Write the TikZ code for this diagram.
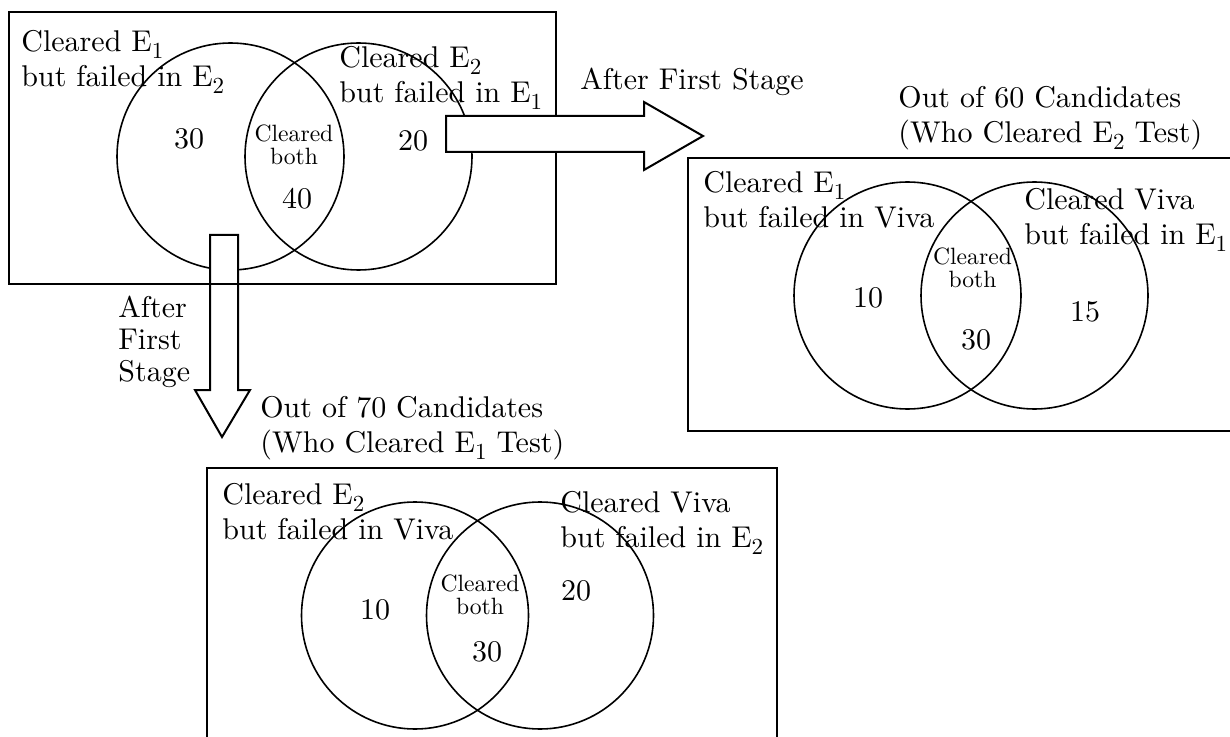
\documentclass[tikz,border=0pt]{standalone}
\usepackage{fontspec}
\setmainfont{lmroman10-regular.otf}
\newcommand\esub[1]{\raisebox{-3.5pt}{\fontsize{11.5}{11.5}\selectfont #1}}
\begin{document}
\begin{tikzpicture}[x=0.5pt,y=-0.5pt,
  venn/.style={circle, draw=black, line width=0.8pt, minimum size=113.5pt, inner sep=0pt},
  lbl/.style={anchor=base west, align=left, inner sep=0pt, font=\fontsize{15}{17.5}\selectfont},
  num/.style={inner sep=0pt, font=\fontsize{15}{17.5}\selectfont},
  both/.style={anchor=base, align=center, inner sep=0pt, font=\fontsize{11.8}{11.5}\selectfont},
  vennbox/.style={draw=black, line width=1pt},
  blockarrow/.style={draw=black, fill=white, line width=1pt, line join=miter}]
\useasboundingbox (0,0) rectangle (1230,737);
\clip (0,0) rectangle (1230,737);
% first stage: E1 and E2
\node [venn] (e1) at (230.5,156.5) {};
\node [venn] (e2) at (358.5,156.5) {};
\draw [blockarrow] (210,235) -- (238,235) -- (238,390) -- (250,390) -- (222,437) -- (195,390) -- (210,390) -- cycle;
\draw [vennbox] (9,12) rectangle (556,284);
\draw [blockarrow] (446,116) -- (644,116) -- (644,102) -- (703,136) -- (644,170) -- (644,152) -- (446,152) -- cycle;
\node [lbl] (e1only) at (21,87) {Cleared E\esub{1}\\but failed in E\esub{2}};
\node [lbl] (e2only) at (339,103) {Cleared E\esub{2}\\but failed in E\esub{1}};
\node [num] (n30) at (189,139) {30};
\node [both] (e12) at (294,165) {Cleared\\both};
\node [num] (n40) at (297,199) {40};
\node [num] (n20) at (413,141) {20};
\node [lbl] (stageh) at (580,90) {After First Stage};
\node [lbl, font=\fontsize{15}{16}\selectfont] (stagev) at (118,381) {After\\First\\Stage};
% second stage: E2 and viva
\node [lbl] (title60) at (898,143) {Out of 60 Candidates\\(Who Cleared E\esub{2} Test)};
\node [venn] (r1) at (907.5,295.5) {};
\node [venn] (rv) at (1034.5,295.5) {};
\draw [vennbox] (688,158) rectangle (1240,431);
\node [lbl] (r1only) at (703,228) {Cleared E\esub{1}\\but failed in Viva};
\node [lbl] (rvonly) at (1024,245) {Cleared Viva\\but failed in E\esub{1}};
\node [num] (r10) at (868,298) {10};
\node [both] (r1v) at (972.5,288) {Cleared\\both};
\node [num] (r30) at (976,340) {30};
\node [num] (r15) at (1085,312) {15};
% second stage: E1 and viva
\node [lbl] (title70) at (260,452) {Out of 70 Candidates\\(Who Cleared E\esub{1} Test)};
\node [venn] (b2) at (415,615.5) {};
\node [venn] (bv) at (540,615.5) {};
\draw [vennbox] (207,468) rectangle (777,750);
\node [lbl] (b2only) at (222,539) {Cleared E\esub{2}\\but failed in Viva};
\node [lbl] (bvonly) at (560,547) {Cleared Viva\\but failed in E\esub{2}};
\node [num] (b10) at (375,610) {10};
\node [both] (b2v) at (480,614) {Cleared\\both};
\node [num] (b30) at (487,652) {30};
\node [num] (b20) at (576,591) {20};
\end{tikzpicture}
\end{document}
